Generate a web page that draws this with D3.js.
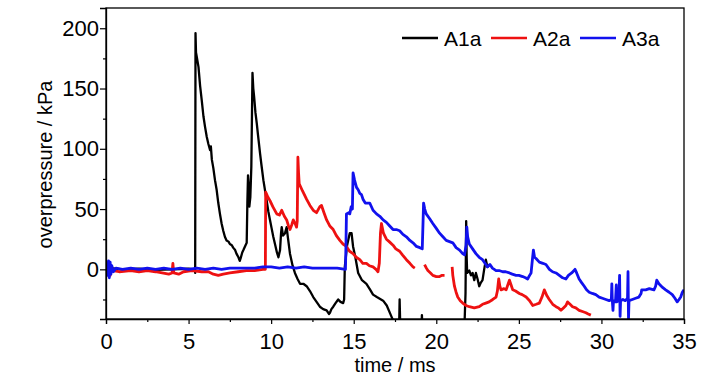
<!DOCTYPE html>
<html>
<head>
<meta charset="utf-8">
<script src="https://cdn.jsdelivr.net/npm/d3@7"></script>
<style>
  html, body { margin: 0; padding: 0; background: #fff; }
  svg { display: block; font-family: "Liberation Sans", Arial, sans-serif; }
</style>
</head>
<body>
<svg id="chart" width="728" height="381"></svg>
<script>
// pressure traces: [time ms, overpressure kPa]; null = gap in record
const seriesNames = ['A1a', 'A2a', 'A3a'];
const seriesColors = ['#000000', '#ee1111', '#1111ee'];

const a1a = [
  [0,0],[0.2,2],[0.25,-3],[0.3,1],[1,0],[2,0.5],[3,-0.5],[4,0],[5,0.5],[5.38,0],[5.40,-3],
  [5.42,196],[5.45,180],[5.5,176],[5.6,168],[5.7,152],[5.8,140],[5.9,127],[6.0,118],[6.1,110],
  [6.2,104],[6.3,99],[6.35,102],[6.41,91],[6.5,84],[6.6,74],[6.7,66],[6.8,55],[6.9,46],[7.0,38],
  [7.1,32],[7.2,27],[7.3,24],[7.42,23],[7.5,21],[7.62,20],[7.7,18],[7.82,16],[7.9,13],[8.02,10],
  [8.1,7],[8.15,9],[8.25,14],[8.32,16],[8.45,20],[8.52,22],[8.56,55],[8.6,78],[8.64,70],[8.68,52],
  [8.74,60],[8.8,85],[8.87,163],[8.92,150],[8.97,143],[9.05,130],[9.13,121],[9.2,112],[9.33,96],
  [9.4,88],[9.53,74],[9.6,68],[9.73,57],[9.83,48],[9.93,41],[10.03,34],[10.13,27],[10.25,20],
  [10.35,14],[10.44,10],[10.54,16],[10.6,30],[10.64,35],[10.72,28],[10.84,30],[10.94,35],[11.0,28],
  [11.14,13],[11.3,3],[11.44,-3],[11.6,-8],[11.75,-12],[11.95,-12],[12.15,-14],[12.35,-18],
  [12.55,-23],[12.75,-27],[12.95,-31],[13.15,-33],[13.36,-34],[13.5,-37],[13.56,-36],[13.65,-33],
  [13.76,-31],[13.9,-28],[14.06,-25],[14.2,-27],[14.36,-28],[14.42,-25],[14.46,2],[14.6,20],
  [14.76,30],[14.87,30],[14.96,19],[15.1,10],[15.27,-3],[15.5,-9],[15.77,-12],[16.0,-17],
  [16.17,-21],[16.4,-23],[16.78,-26],[17.0,-30],[17.28,-39],[17.5,-46],[17.75,-48],[17.78,-25],
  [17.82,-48],[18.2,-50],[19.1,-50],[19.13,-38],[19.16,-50],[21.7,-50],[21.77,-20],[21.81,40],
  [21.84,10],[21.87,-3],[22.0,-1],[22.1,-5],[22.2,-3],[22.3,-9],[22.4,-3],[22.5,-8],[22.6,-14],
  [22.7,-11],[22.8,-9],[22.9,0],[23.0,8],[23.1,2],[23.2,4]
];

const a2a = [
  [0,0],[0.1,-2],[0.2,5],[0.25,-5],[0.3,3],[0.4,-1],[0.8,-2],[1.5,-1],[2.0,-2],[2.5,-1],[3.0,-2],
  [3.4,-3],[3.8,-4],[4.0,-3],[4.05,5],[4.1,-3],[4.4,-4],[4.7,-2],[5.2,-1],[5.8,-2],[6.2,-2],
  [6.5,-4],[6.8,-5],[7.1,-4],[7.5,-3],[8.0,-2],[8.5,-1],[9.0,-1],[9.5,0],[9.65,0],[9.67,64],
  [9.8,60],[9.93,57],[10.1,52],[10.34,46],[10.5,45],[10.64,49],[10.8,44],[10.94,41],[11.05,36],
  [11.14,33],[11.25,37],[11.34,41],[11.45,38],[11.54,35],[11.58,40],[11.62,93],[11.66,80],
  [11.7,71],[11.9,65],[12.15,58],[12.35,53],[12.55,49],[12.75,47],[12.95,52],[13.05,53],
  [13.2,47],[13.36,41],[13.55,36],[13.76,33],[13.95,28],[14.16,24],[14.35,21],[14.56,19],
  [14.75,15],[14.96,13],[15.15,10],[15.37,8],[15.55,5],[15.77,5],[15.95,3],[16.17,2],[16.35,0],
  [16.47,-2],[16.55,5],[16.62,30],[16.68,38],[16.8,30],[16.98,25],[17.15,23],[17.38,20],
  [17.55,17],[17.78,15],[17.95,12],[18.19,8],[18.4,5],[18.59,2],[18.7,1],[18.75,null],
  [19.29,4],[19.4,1],[19.49,-1],[19.65,-3],[19.79,-5],[20.0,-6],[20.2,-6],[20.35,-5],[20.5,-5],
  [20.55,null],[20.96,2],[21.0,-5],[21.1,-14],[21.2,-19],[21.3,-23],[21.45,-26],[21.6,-28],
  [21.8,-30],[22.0,-31],[22.3,-32],[22.6,-31],[22.8,-29],[23.0,-28],[23.2,-27],[23.42,-25],
  [23.62,-23],[23.7,-18],[23.78,-8],[23.85,-14],[23.92,-17],[24.1,-16],[24.23,-17],[24.33,-13],
  [24.43,-9],[24.53,-13],[24.63,-17],[24.8,-18],[25.03,-20],[25.2,-21],[25.44,-23],[25.65,-26],
  [25.84,-30],[26.05,-29],[26.24,-28],[26.4,-23],[26.54,-17],[26.7,-22],[26.84,-25],[27.05,-29],
  [27.25,-31],[27.4,-32],[27.55,-34],[27.7,-32],[27.85,-30],[27.95,-27],[28.1,-29],[28.25,-31],
  [28.45,-32],[28.65,-34],[28.85,-35],[29.06,-36],[29.2,-37],[29.36,-38]
];

const a3a = [
  [0,0],[0.1,-5],[0.15,7],[0.2,-7],[0.25,6],[0.3,-4],[0.35,3],[0.45,-2],[0.6,1],[1.0,0],[1.5,1],
  [2.0,0],[2.5,1],[3.0,0],[3.5,1],[4.0,0],[4.5,1],[5.0,0],[5.5,1],[6.0,0],[6.5,1],[7.0,0],
  [7.5,1],[8.0,1],[8.5,1],[9.0,1],[9.5,2],[10.0,2],[10.5,1],[11.0,2],[11.5,1],[12.0,2],[12.5,1],
  [13.0,1],[13.5,1],[14.0,1],[14.5,0],[14.53,20],[14.56,46],[14.7,47],[14.76,46],[14.85,52],
  [14.92,50],[14.96,80],[15.05,74],[15.17,68],[15.27,66],[15.37,63],[15.47,62],[15.57,58],
  [15.7,55],[15.97,55],[16.17,49],[16.38,46],[16.58,44],[16.78,41],[16.98,39],[17.18,36],
  [17.38,33],[17.58,33],[17.78,32],[17.98,29],[18.19,27],[18.4,24],[18.59,22],[18.8,19],
  [19.0,18],[19.15,17],[19.2,40],[19.23,55],[19.3,50],[19.39,46],[19.6,42],[19.79,38],[20.0,34],
  [20.2,30],[20.4,27],[20.6,24],[20.8,23],[21.0,22],[21.2,18],[21.41,16],[21.6,13],[21.71,12],
  [21.8,20],[21.85,35],[21.9,27],[22.0,21],[22.2,17],[22.4,13],[22.6,10],[22.8,8],[23.0,4],
  [23.1,2],[23.25,4],[23.4,1],[23.62,-1],[23.8,-1],[24.02,-2],[24.2,-2],[24.43,-3],[24.6,-4],
  [24.83,-5],[25.0,-5],[25.23,-6],[25.4,-7],[25.53,-8],[25.65,-5],[25.74,-3],[25.82,8],
  [25.88,16],[25.95,10],[26.04,9],[26.24,6],[26.45,5],[26.64,4],[26.85,0],[27.04,-2],
  [27.25,-3],[27.45,-5],[27.65,-7],[27.85,-8],[28.0,-5],[28.2,-3],[28.4,0],[28.5,-3],
  [28.65,-8],[28.8,-11],[28.96,-14],[29.1,-17],[29.26,-19],[29.45,-20],[29.66,-21],[29.86,-23],
  [30.06,-24],[30.27,-25],[30.47,-26],[30.6,-25],[30.63,-12],[30.66,-26],[30.7,-34],[30.73,-26],
  [30.85,-27],[30.9,-13],[30.93,-27],[31.05,-26],[31.1,-5],[31.13,-39],[31.16,-26],[31.3,-25],
  [31.45,-26],[31.58,-24],[31.61,-2],[31.64,-41],[31.67,-26],[31.87,-25],[32.07,-24],
  [32.27,-23],[32.4,-20],[32.44,-17],[32.68,-17],[32.9,-16],[33.18,-17],[33.28,-14],[33.35,-9],
  [33.48,-12],[33.7,-15],[33.89,-17],[34.1,-19],[34.29,-21],[34.45,-24],[34.59,-27],[34.7,-25],
  [34.8,-23],[34.9,-19],[35.0,-17]
];

const xTicks = [0, 5, 10, 15, 20, 25, 30, 35];
const xMinor = [2.5, 7.5, 12.5, 17.5, 22.5, 27.5, 32.5];
const yTicks = [0, 50, 100, 150, 200];
const yMinor = [-25, 25, 75, 125, 175];

const allSeries = [a1a, a2a, a3a];

// layout
const L = 106, R = 684, T = 8, B = 319;
const svg = d3.select('#chart');

const x = d3.scaleLinear().domain([0, 35]).range([L, R]);
const y = d3.scaleLinear().domain([-41.2, 216.8]).range([B, T]);

svg.append('defs').append('clipPath').attr('id', 'plot-clip')
  .append('rect').attr('x', L).attr('y', T).attr('width', R - L).attr('height', B - T);

// traces — black under red under blue, like the source
const line = d3.line()
  .defined(d => d[1] !== null)
  .x(d => x(d[0]))
  .y(d => y(d[1]));

const gLines = svg.append('g').attr('clip-path', 'url(#plot-clip)');
allSeries.forEach((s, i) => {
  gLines.append('path')
    .datum(s)
    .attr('d', line)
    .attr('fill', 'none')
    .attr('stroke', seriesColors[i])
    .attr('stroke-width', i === 0 ? 2.3 : 2.8)
    .attr('stroke-linejoin', 'round');
});

// frame
svg.append('rect')
  .attr('x', L).attr('y', T).attr('width', R - L).attr('height', B - T)
  .attr('fill', 'none').attr('stroke', '#000').attr('stroke-width', 1.3);

// x axis
svg.append('g').attr('transform', `translate(0,${B})`)
  .call(d3.axisBottom(x).tickValues(xTicks).tickSize(5).tickPadding(9).tickFormat(d3.format('d')));
svg.append('g').attr('transform', `translate(0,${B})`)
  .call(d3.axisBottom(x).tickValues(xMinor).tickSize(3).tickFormat(''))
  .call(g => g.select('.domain').remove());

// y axis
svg.append('g').attr('transform', `translate(${L},0)`)
  .call(d3.axisLeft(y).tickValues(yTicks).tickSize(6).tickPadding(1).tickFormat(d3.format('d')));
svg.append('g').attr('transform', `translate(${L},0)`)
  .call(d3.axisLeft(y).tickValues(yMinor).tickSize(3).tickFormat(''))
  .call(g => g.select('.domain').remove());

svg.selectAll('.domain').attr('stroke-width', 1.3);
svg.selectAll('.tick line').attr('stroke', '#000').attr('stroke-width', 1.2);
svg.selectAll('.tick text')
  .attr('font-family', '"Liberation Sans", Arial, sans-serif')
  .attr('font-size', 22)
  .attr('fill', '#000');

// axis titles
svg.append('text')
  .attr('x', (L + R) / 2).attr('y', 372)
  .attr('text-anchor', 'middle')
  .attr('font-size', 20)
  .text('time / ms');

svg.append('text')
  .attr('transform', `translate(52,${(T + B) / 2 + 1}) rotate(-90)`)
  .attr('text-anchor', 'middle')
  .attr('font-size', 20)
  .text('overpressure / kPa');

// legend, one row top-right
const leg = svg.append('g');
seriesNames.forEach((name, i) => {
  const x0 = 402 + i * 89;
  leg.append('line')
    .attr('x1', x0).attr('x2', x0 + 36)
    .attr('y1', 38).attr('y2', 38)
    .attr('stroke', seriesColors[i]).attr('stroke-width', 2.4);
  leg.append('text')
    .attr('x', x0 + 42).attr('y', 45.5)
    .attr('font-size', 21)
    .text(name);
});
</script>
</body>
</html>
